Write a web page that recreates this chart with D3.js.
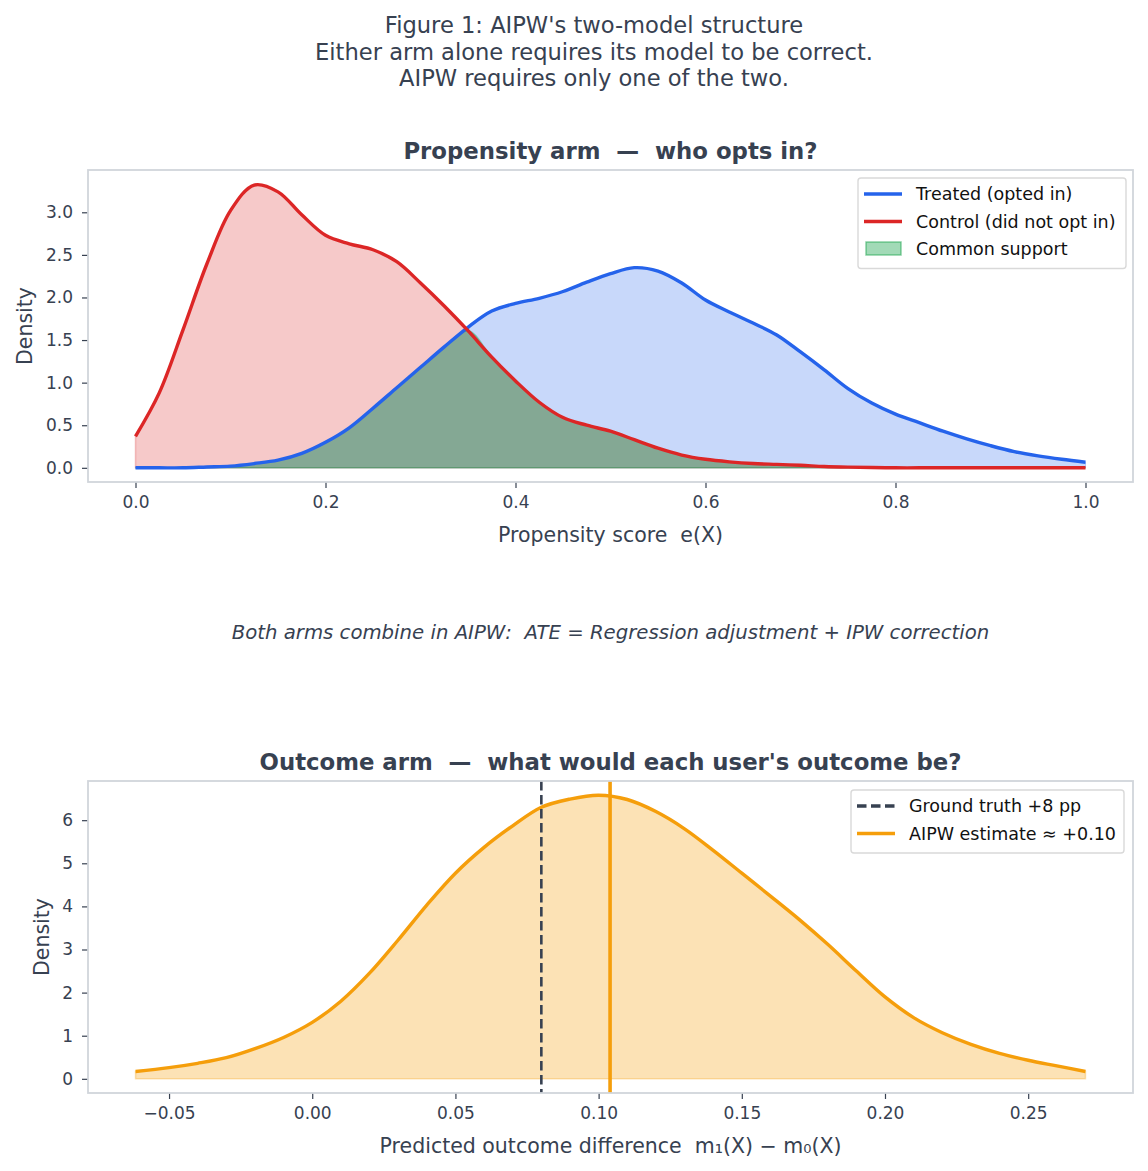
<!DOCTYPE html>
<html>
<head>
<meta charset="utf-8">
<script src="https://cdn.jsdelivr.net/npm/d3@7"></script>
<style>
body { margin: 0; background: #fff; }
svg text { font-family: "DejaVu Sans", sans-serif; fill: #374151; white-space: pre; }
</style>
</head>
<body>
<svg id="svg" width="1148" height="1171"></svg>
<script>
// propensity score densities on a 0.025 grid
const propX = [0, 0.025, 0.05, 0.075, 0.1, 0.125, 0.15, 0.175, 0.2, 0.225, 0.25, 0.275, 0.3, 0.325,
    0.35, 0.375, 0.4, 0.425, 0.45, 0.475, 0.5, 0.525, 0.55, 0.575, 0.6, 0.625, 0.65, 0.675, 0.7,
    0.725, 0.75, 0.775, 0.8, 0.825, 0.85, 0.875, 0.9, 0.925, 0.95, 0.975, 1.0];
const treatedY = [0, 0, 0, 0.01, 0.02, 0.05, 0.09, 0.17, 0.30, 0.47, 0.70, 0.94, 1.18, 1.42,
    1.65, 1.84, 1.93, 1.99, 2.07, 2.18, 2.28, 2.35, 2.31, 2.17, 1.97, 1.83, 1.70, 1.56, 1.36,
    1.15, 0.93, 0.76, 0.63, 0.53, 0.43, 0.34, 0.26, 0.19, 0.14, 0.10, 0.066];
const controlY = [0.37, 0.88, 1.62, 2.39, 3.02, 3.32, 3.24, 2.97, 2.73, 2.63, 2.56, 2.42, 2.17, 1.90,
    1.61, 1.30, 1.02, 0.77, 0.59, 0.50, 0.43, 0.33, 0.23, 0.15, 0.10, 0.07, 0.05, 0.04, 0.03,
    0.016, 0.008, 0.003, 0, 0, 0, 0, 0, 0, 0, 0, 0];

// predicted outcome difference density
const outcomeX = [-0.0617, -0.05, -0.04, -0.03, -0.02, -0.01, 0.0, 0.01, 0.02, 0.03, 0.04, 0.05,
    0.06, 0.07, 0.08, 0.09, 0.10, 0.11, 0.12, 0.13, 0.14, 0.15, 0.16, 0.17, 0.18, 0.19, 0.20,
    0.21, 0.22, 0.23, 0.24, 0.25, 0.26, 0.27];
const outcomeY = [0.17, 0.26, 0.36, 0.49, 0.70, 0.96, 1.31, 1.80, 2.45, 3.22, 4.03, 4.77,
    5.37, 5.87, 6.30, 6.49, 6.58, 6.48, 6.20, 5.80, 5.30, 4.77, 4.24, 3.70, 3.12, 2.50, 1.90,
    1.42, 1.07, 0.80, 0.59, 0.43, 0.30, 0.17];

const groundTruth = 0.08;
const aipwEstimate = 0.104;

const propXTicks = [0, 0.2, 0.4, 0.6, 0.8, 1.0];
const propYTicks = [0, 0.5, 1.0, 1.5, 2.0, 2.5, 3.0];
const outXTicks = [-0.05, 0, 0.05, 0.10, 0.15, 0.20, 0.25];
const outYTicks = [0, 1, 2, 3, 4, 5, 6];

const titleLines = ["Figure 1: AIPW's two-model structure",
    "Either arm alone requires its model to be correct.",
    "AIPW requires only one of the two."];

const BLUE = "#2563eb", RED = "#dc2626", GREEN = "#16a34a", ORANGE = "#f59e0b", INK = "#374151";

const svg = d3.select("#svg");
const left = 88, right = 1133;
const smooth = d3.curveCatmullRom.alpha(0.5);

// figure title
svg.append("g").selectAll("text")
    .data(titleLines)
    .join("text")
    .attr("x", 594)
    .attr("y", (d, i) => 33 + i * 26.5)
    .attr("text-anchor", "middle")
    .style("font-size", "22.6px")
    .text(d => d);

function frame(top, bottom, xScale, yScale, xTicks, yTicks, xFmt, yFmt, title, xLabel, yLabelX) {
    const g = svg.append("g");

    g.append("text")
        .attr("x", (left + right) / 2)
        .attr("y", top - 11)
        .attr("text-anchor", "middle")
        .style("font-size", "22.8px")
        .style("font-weight", "bold")
        .text(title);

    const xAxis = g.append("g")
        .attr("transform", "translate(0," + bottom + ")")
        .call(d3.axisBottom(xScale).tickValues(xTicks).tickFormat(xFmt).tickSize(6).tickPadding(8));
    const yAxis = g.append("g")
        .attr("transform", "translate(" + left + ",0)")
        .call(d3.axisLeft(yScale).tickValues(yTicks).tickFormat(yFmt).tickSize(6).tickPadding(9));

    [xAxis, yAxis].forEach(a => {
        a.select(".domain").remove();
        a.selectAll(".tick line").attr("stroke", INK).attr("stroke-width", 1.2);
        a.selectAll(".tick text").style("font-size", "17px").attr("fill", INK)
            .style("font-family", "DejaVu Sans");
    });

    g.append("text")
        .attr("x", (left + right) / 2)
        .attr("y", bottom + 60)
        .attr("text-anchor", "middle")
        .style("font-size", "20.5px")
        .text(xLabel);

    g.append("text")
        .attr("transform", "translate(" + yLabelX + "," + (top + bottom) / 2 + ") rotate(-90)")
        .attr("text-anchor", "middle")
        .attr("dy", "0.35em")
        .style("font-size", "20.5px")
        .text("Density");

    return g;
}

function spines(top, bottom) {
    svg.append("rect")
        .attr("x", left).attr("y", top)
        .attr("width", right - left).attr("height", bottom - top)
        .attr("fill", "none")
        .attr("stroke", "#d1d5db")
        .attr("stroke-width", 1.8);
}

function legend(x0, y0, w, rows) {
    const g = svg.append("g").attr("transform", "translate(" + x0 + "," + y0 + ")");
    g.append("rect")
        .attr("width", w).attr("height", rows.length * 27.5 + 8)
        .attr("rx", 3)
        .attr("fill", "#fff").attr("fill-opacity", 0.85)
        .attr("stroke", "#d9d9d9").attr("stroke-width", 1.4);
    rows.forEach((r, i) => {
        const cy = 16 + i * 27.5;
        if (r.patch) {
            g.append("rect")
                .attr("x", 8).attr("y", cy - 7).attr("width", 35).attr("height", 13)
                .attr("fill", r.color).attr("fill-opacity", 0.4)
                .attr("stroke", r.color).attr("stroke-opacity", 0.5).attr("stroke-width", 1.5);
        } else {
            g.append("line")
                .attr("x1", 6).attr("x2", 44).attr("y1", cy).attr("y2", cy)
                .attr("stroke", r.color).attr("stroke-width", 3.5)
                .attr("stroke-dasharray", r.dash || null);
        }
        g.append("text")
            .attr("x", 58).attr("y", cy).attr("dy", "0.36em")
            .style("font-size", "17.5px")
            .style("fill", "#111")
            .text(r.label);
    });
}

propensityPanel();
outcomePanel();

svg.append("text")
    .attr("x", (left + right) / 2)
    .attr("y", 639)
    .attr("text-anchor", "middle")
    .style("font-size", "19.7px")
    .style("font-style", "italic")
    .text("Both arms combine in AIPW:  ATE = Regression adjustment + IPW correction");

function propensityPanel() {
    const top = 170, bottom = 482;
    const x = d3.scaleLinear().domain([-0.05, 1.05]).range([left, right]);
    const y = d3.scaleLinear().domain([-0.1665, 3.4965]).range([bottom, top]);

    frame(top, bottom, x, y, propXTicks, propYTicks, d3.format(".1f"), d3.format(".1f"),
        "Propensity arm  \u2014  who opts in?", "Propensity score  e(X)", 25);

    const area = vals => d3.area().curve(smooth)
        .x((d, i) => x(propX[i])).y0(y(0)).y1((d, i) => y(vals[i]));
    const line = vals => d3.line().curve(smooth)
        .x((d, i) => x(propX[i])).y((d, i) => y(vals[i]));
    const common = propX.map((d, i) => Math.min(treatedY[i], controlY[i]));

    const g = svg.append("g");
    g.append("path").datum(treatedY).attr("d", area(treatedY))
        .attr("fill", BLUE).attr("fill-opacity", 0.25)
        .attr("stroke", BLUE).attr("stroke-opacity", 0.25).attr("stroke-width", 1);
    g.append("path").datum(controlY).attr("d", area(controlY))
        .attr("fill", RED).attr("fill-opacity", 0.25)
        .attr("stroke", RED).attr("stroke-opacity", 0.25).attr("stroke-width", 1.5);
    g.append("path").datum(common).attr("d", area(common))
        .attr("fill", GREEN).attr("fill-opacity", 0.4)
        .attr("stroke", GREEN).attr("stroke-opacity", 0.4).attr("stroke-width", 1.5);
    g.append("path").datum(treatedY).attr("d", line(treatedY))
        .attr("fill", "none").attr("stroke", BLUE).attr("stroke-width", 3.4);
    g.append("path").datum(controlY).attr("d", line(controlY))
        .attr("fill", "none").attr("stroke", RED).attr("stroke-width", 3.4);

    spines(top, bottom);

    legend(858, 178, 268, [
        {label: "Treated (opted in)", color: BLUE},
        {label: "Control (did not opt in)", color: RED},
        {label: "Common support", color: GREEN, patch: true}
    ]);
}

function outcomePanel() {
    const top = 781, bottom = 1093;
    const x = d3.scaleLinear().domain([-0.0783, 0.2866]).range([left, right]);
    const y = d3.scaleLinear().domain([-0.329, 6.909]).range([bottom, top]);
    const fmt = d => (d < 0 ? "\u2212" : "") + d3.format(".2f")(Math.abs(d));

    frame(top, bottom, x, y, outXTicks, outYTicks, fmt, d3.format("d"),
        "Outcome arm  \u2014  what would each user's outcome be?",
        "Predicted outcome difference  m\u2081(X) \u2212 m\u2080(X)", 42);

    const g = svg.append("g");
    g.append("path")
        .attr("d", d3.area().curve(smooth)
            .x((d, i) => x(outcomeX[i])).y0(y(0)).y1(d => y(d))(outcomeY))
        .attr("fill", ORANGE).attr("fill-opacity", 0.3)
        .attr("stroke", ORANGE).attr("stroke-opacity", 0.3).attr("stroke-width", 1.5);
    g.append("path")
        .attr("d", d3.line().curve(smooth)
            .x((d, i) => x(outcomeX[i])).y(d => y(d))(outcomeY))
        .attr("fill", "none").attr("stroke", ORANGE).attr("stroke-width", 3.4);

    g.append("line")
        .attr("x1", x(groundTruth)).attr("x2", x(groundTruth))
        .attr("y1", top).attr("y2", bottom)
        .attr("stroke", INK).attr("stroke-width", 2.6).attr("stroke-dasharray", "9.5,4.5");
    g.append("line")
        .attr("x1", x(aipwEstimate)).attr("x2", x(aipwEstimate))
        .attr("y1", top).attr("y2", bottom)
        .attr("stroke", ORANGE).attr("stroke-width", 3.6);

    spines(top, bottom);

    legend(851, 790, 273, [
        {label: "Ground truth +8 pp", color: INK, dash: "9.5,4.5"},
        {label: "AIPW estimate \u2248 +0.10", color: ORANGE}
    ]);
}
</script>
</body>
</html>
